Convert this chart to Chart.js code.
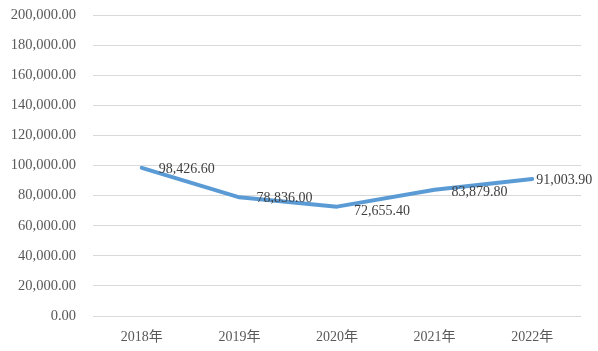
<!DOCTYPE html>
<html><head><meta charset="utf-8">
<script src="https://cdn.jsdelivr.net/npm/chart.js@4/dist/chart.umd.min.js"></script>
<style>html,body{margin:0;padding:0;background:#fff}#wrap{width:598px;height:351px}</style>
</head><body><div id="wrap"><canvas id="c" width="598" height="351"></canvas></div>
<script>
const categories = ["2018年", "2019年", "2020年", "2021年", "2022年"];
const values = [98426.60, 78836.00, 72655.40, 83879.80, 91003.90];
const yTicks = [0, 20000, 40000, 60000, 80000, 100000, 120000, 140000, 160000, 180000, 200000];

const FONT = "'Liberation Serif', 'Times New Roman', 'Noto Sans CJK SC', serif";
const labelOffsets = [[17, 1], [17, 1], [17, 5], [17, 3], [4, 1]];

const fmt = v => v.toLocaleString('en-US', {minimumFractionDigits: 2, maximumFractionDigits: 2});

const labelPlugin = {
  id: 'pointLabels',
  afterDatasetsDraw(chart) {
    const ctx = chart.ctx;
    const meta = chart.getDatasetMeta(0);
    ctx.save();
    ctx.font = "14px " + FONT;
    ctx.fillStyle = '#404040';
    ctx.textAlign = 'left';
    ctx.textBaseline = 'middle';
    meta.data.forEach((pt, i) => {
      const o = labelOffsets[i];
      ctx.fillText(fmt(values[i]), pt.x + o[0], pt.y + o[1]);
    });
    ctx.restore();
  }
};

new Chart(document.getElementById('c'), {
  type: 'line',
  data: {
    labels: categories,
    datasets: [{
      data: values,
      borderColor: '#5B9BD5',
      borderWidth: 4,
      borderCapStyle: 'round',
      borderJoinStyle: 'round',
      pointRadius: 0,
      tension: 0,
      fill: false
    }]
  },
  options: {
    responsive: false,
    animation: false,
    layout: {padding: {top: 15, right: 17, bottom: 0, left: 0}},
    plugins: {legend: {display: false}, tooltip: {enabled: false}},
    scales: {
      x: {
        offset: true,
        afterFit(axis) { axis.height = 35; axis.paddingLeft = 0; axis.paddingRight = 0; },
        grid: {display: false, drawTicks: false},
        border: {display: false},
        ticks: {color: '#595959', font: {size: 14, family: FONT}, padding: 13, maxRotation: 0}
      },
      y: {
        min: 0, max: 200000,
        afterBuildTicks(axis) { axis.ticks = yTicks.map(v => ({value: v})); },
        afterFit(axis) { axis.width = 93; axis.paddingTop = 0; axis.paddingBottom = 0; },
        grid: {color: '#d9d9d9', lineWidth: 1, drawTicks: false},
        border: {display: false},
        ticks: {color: '#595959', font: {size: 14.5, family: FONT}, padding: 17, callback: v => fmt(v)}
      }
    }
  },
  plugins: [labelPlugin]
});
</script></body></html>
